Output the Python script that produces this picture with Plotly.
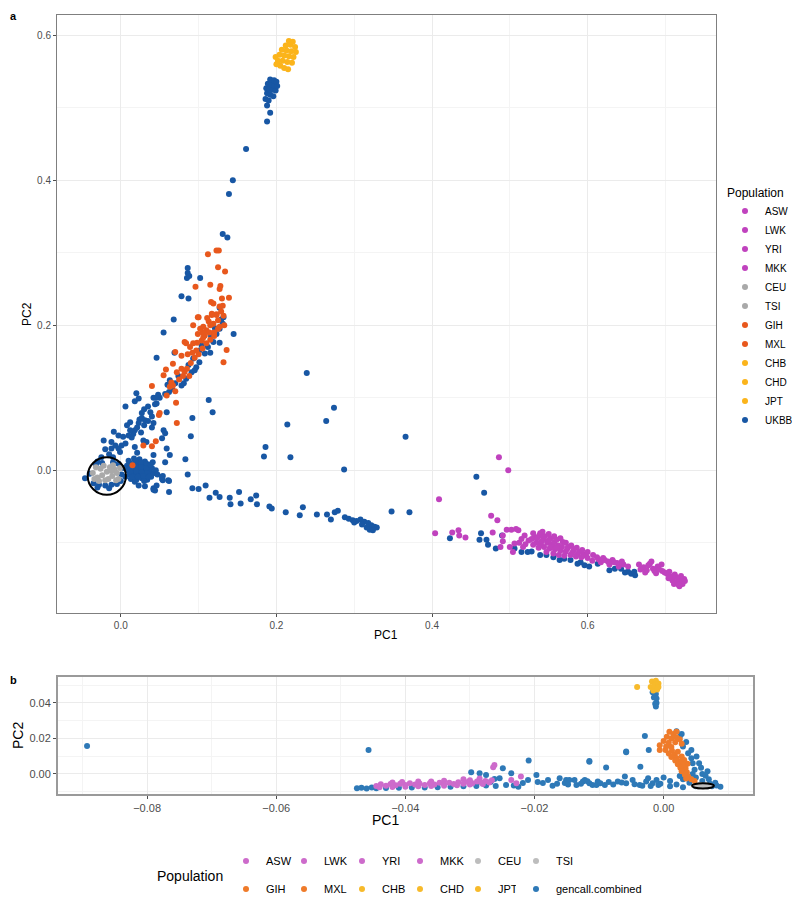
import plotly.graph_objects as go

# ---------------- panel a (PC1 vs PC2, UKBB + 1000G/HapMap) ----------------
a_east_asian = [(0.205, 0.558), (0.210, 0.555), (0.215, 0.553), (0.202, 0.565), (0.208, 0.565),
                (0.214, 0.563), (0.220, 0.562), (0.204, 0.573), (0.210, 0.572), (0.216, 0.571),
                (0.222, 0.570), (0.207, 0.580), (0.213, 0.579), (0.219, 0.578), (0.225, 0.577),
                (0.212, 0.586), (0.218, 0.587), (0.224, 0.584), (0.216, 0.592), (0.221, 0.591),
                (0.199, 0.570), (0.200, 0.560)]

a_ukbb = [(0.188, 0.520), (0.192, 0.518), (0.196, 0.516), (0.187, 0.527), (0.191, 0.526), (0.195, 0.525),
          (0.199, 0.524), (0.189, 0.533), (0.193, 0.532), (0.197, 0.531), (0.201, 0.530), (0.192, 0.539),
          (0.197, 0.538), (0.200, 0.536), (0.186, 0.512), (0.190, 0.510),
          (0.188, 0.503), (0.192, 0.493), (0.188, 0.481), (0.161, 0.443), (0.144, 0.400), (0.139, 0.381),
          (0.131, 0.326), (0.137, 0.321),
          (0.086, 0.279), (0.086, 0.272), (0.085, 0.265), (0.088, 0.268), (0.102, 0.265), (0.078, 0.240),
          (0.087, 0.237), (0.068, 0.208), (0.055, 0.190), (0.145, 0.188), (0.046, 0.155), (0.069, 0.162),
          (0.127, 0.176), (0.127, 0.224), (0.132, 0.211), (0.113, 0.097), (0.118, 0.080), (0.092, 0.072),
          (0.090, 0.047), (0.083, 0.015), (0.086, -0.006),
          (0.063, 0.124), (0.070, 0.120), (0.078, 0.117), (0.084, 0.126), (0.091, 0.135), (0.097, 0.142),
          (0.101, 0.149), (0.108, 0.161), (0.112, 0.170), (0.119, 0.177), (0.123, 0.188), (0.127, 0.195),
          (0.131, 0.202), (0.101, 0.165), (0.093, 0.154), (0.066, 0.112), (0.060, 0.118), (0.074, 0.130),
          (0.087, 0.145), (0.104, 0.172), (0.116, 0.185), (0.121, 0.196), (0.129, 0.208), (0.115, 0.162),
          (0.095, 0.138), (0.081, 0.120), (0.057, 0.105), (0.062, 0.108),
          (0.006, 0.088), (0.020, 0.106), (0.023, 0.099), (0.018, 0.095), (0.030, 0.084), (0.027, 0.079),
          (0.042, 0.100), (0.044, 0.091), (0.046, 0.092), (0.040, 0.074), (0.059, 0.080), (0.024, 0.070),
          (0.023, 0.065), (0.021, 0.059), (0.018, 0.055), (0.027, 0.072), (0.031, 0.069), (0.012, 0.066),
          (0.008, 0.062), (0.042, 0.065), (0.040, 0.059), (0.055, 0.055), (-0.009, 0.053), (-0.003, 0.048),
          (-0.022, 0.041), (-0.012, 0.039), (0.003, 0.046), (0.010, 0.048), (0.006, 0.037), (0.001, 0.034),
          (-0.003, 0.030), (-0.012, 0.030), (-0.020, 0.029), (-0.007, 0.034), (-0.001, 0.025), (0.018, 0.032),
          (0.021, 0.024), (0.029, 0.041), (0.033, 0.039), (0.053, 0.044), (0.057, 0.051), (0.059, 0.030),
          (0.063, 0.021), (0.057, 0.011), (0.042, 0.021), (0.014, 0.045), (0.016, 0.050), (0.012, 0.055),
          (0.030, 0.062), (0.035, 0.068), (0.026, 0.052), (0.050, 0.100), (0.048, 0.104), (0.045, 0.100),
          (0.035, 0.088), (0.038, 0.080), (-0.015, 0.022), (-0.025, 0.018), (-0.030, 0.012), (-0.010, 0.018),
          (0.010, 0.013), (0.017, 0.016), (0.024, 0.015), (0.031, 0.012), (0.008, 0.006), (0.014, 0.008),
          (0.021, 0.009), (0.028, 0.007), (0.035, 0.006), (0.040, 0.003), (0.009, 0.000), (0.016, 0.001),
          (0.023, 0.002), (0.030, 0.000), (0.037, -0.002), (0.043, -0.004), (0.011, -0.006), (0.018, -0.005),
          (0.025, -0.007), (0.032, -0.006), (0.039, -0.009), (0.013, -0.012), (0.020, -0.013), (0.027, -0.011),
          (0.034, -0.013), (0.006, -0.009), (0.004, 0.003), (0.018, -0.016), (0.023, -0.021), (0.031, -0.022),
          (0.042, -0.025), (0.046, -0.021), (0.053, -0.009), (0.054, -0.014), (0.061, -0.014), (0.062, -0.030),
          (0.044, -0.028), (0.054, -0.008), (0.062, -0.015), (0.042, -0.027), (0.030, -0.015), (0.041, 0.011),
          (0.053, -0.012), (0.012, 0.010), (0.019, 0.012), (0.026, 0.011), (0.033, 0.009), (0.012, 0.003),
          (0.019, 0.004), (0.026, 0.004), (0.033, 0.003), (0.013, -0.003), (0.020, -0.002), (0.027, -0.003),
          (0.034, -0.004), (0.015, -0.009), (0.022, -0.009), (0.029, -0.008), (0.036, -0.009), (0.045, 0.000),
          (0.047, -0.006), (0.038, 0.008),
          (-0.035, -0.018), (-0.028, -0.020), (-0.020, -0.021), (-0.012, -0.020), (-0.005, -0.019),
          (-0.030, -0.024), (-0.015, -0.025), (-0.032, 0.008), (-0.024, 0.010), (-0.010, 0.011),
          (-0.003, 0.009), (-0.046, -0.011), (-0.040, -0.005), (0.001, -0.006), (0.000, -0.015),
          (0.092, -0.025), (0.100, -0.026), (0.109, -0.021), (0.114, -0.038), (0.122, -0.031), (0.127, -0.037),
          (0.140, -0.038), (0.141, -0.047), (0.152, -0.030), (0.154, -0.046), (0.167, -0.040), (0.174, -0.035),
          (0.175, -0.047), (0.191, -0.050), (0.194, -0.053), (0.212, -0.058), (0.230, -0.062), (0.234, -0.051),
          (0.252, -0.061), (0.265, -0.061), (0.270, -0.068), (0.275, -0.058), (0.279, -0.056),
          (0.288, -0.065), (0.293, -0.067), (0.298, -0.069), (0.303, -0.070), (0.308, -0.068), (0.313, -0.071),
          (0.318, -0.073), (0.322, -0.076), (0.326, -0.078), (0.329, -0.079), (0.320, -0.082), (0.316, -0.079),
          (0.310, -0.075), (0.300, -0.072), (0.324, -0.083),
          (0.348, -0.057), (0.371, -0.058), (0.287, 0.001), (0.239, 0.134), (0.274, 0.086), (0.264, 0.068),
          (0.214, 0.063), (0.186, 0.032), (0.184, 0.019), (0.218, 0.018), (0.366, 0.046),
          (0.457, -0.009), (0.467, -0.031), (0.423, -0.094), (0.463, -0.087), (0.461, -0.096), (0.470, -0.096),
          (0.472, -0.103), (0.482, -0.108), (0.490, -0.090), (0.506, -0.108), (0.515, -0.113),
          (0.539, -0.117), (0.547, -0.117), (0.556, -0.120), (0.564, -0.124), (0.570, -0.122), (0.578, -0.124),
          (0.587, -0.129), (0.596, -0.131), (0.602, -0.133), (0.613, -0.129), (0.628, -0.138), (0.635, -0.136),
          (0.643, -0.136), (0.652, -0.140), (0.656, -0.143), (0.661, -0.145), (0.648, -0.141), (0.660, -0.140),
          (0.591, -0.127), (0.528, -0.112), (0.523, -0.113)]

a_south_asian_amr = [(0.112, 0.298), (0.123, 0.303), (0.126, 0.303), (0.125, 0.280), (0.134, 0.274),
                     (0.096, 0.253), (0.115, 0.256), (0.128, 0.254), (0.127, 0.250), (0.139, 0.238),
                     (0.116, 0.232), (0.130, 0.237), (0.119, 0.230), (0.123, 0.215), (0.132, 0.213),
                     (0.100, 0.211), (0.117, 0.214), (0.136, 0.166), (0.132, 0.149), (0.082, 0.177),
                     (0.070, 0.163), (0.067, 0.147), (0.058, 0.139), (0.055, 0.131), (0.040, 0.116),
                     (0.071, 0.093), (0.050, 0.079), (0.049, 0.076), (0.072, 0.065), (0.029, 0.034),
                     (0.040, 0.033), (0.045, 0.040), (0.015, 0.007),
                     (0.063, 0.115), (0.067, 0.117), (0.059, 0.103), (0.082, 0.136), (0.078, 0.158),
                     (0.089, 0.170), (0.093, 0.175), (0.099, 0.188), (0.104, 0.179), (0.110, 0.193),
                     (0.119, 0.202), (0.106, 0.198), (0.127, 0.198), (0.123, 0.214), (0.117, 0.216),
                     (0.131, 0.227), (0.099, 0.211), (0.093, 0.200), (0.084, 0.175), (0.114, 0.190),
                     (0.120, 0.185), (0.108, 0.186), (0.113, 0.205), (0.125, 0.207), (0.129, 0.219),
                     (0.065, 0.121), (0.070, 0.109), (0.086, 0.160), (0.092, 0.162), (0.098, 0.176),
                     (0.106, 0.183), (0.088, 0.130), (0.102, 0.195),
                     (0.075, 0.125), (0.080, 0.130), (0.085, 0.140), (0.090, 0.148), (0.095, 0.155),
                     (0.100, 0.160), (0.105, 0.168), (0.110, 0.175), (0.115, 0.180), (0.120, 0.190),
                     (0.125, 0.195), (0.115, 0.200), (0.105, 0.190), (0.097, 0.165), (0.078, 0.140),
                     (0.072, 0.135), (0.111, 0.210), (0.127, 0.226), (0.133, 0.200)]

a_european = [(-0.036, -0.004), (-0.032, 0.004), (-0.030, -0.010), (-0.026, 0.002), (-0.024, -0.007),
              (-0.022, 0.006), (-0.018, -0.002), (-0.016, -0.012), (-0.014, 0.004), (-0.011, -0.008),
              (-0.008, 0.001), (-0.005, -0.004), (-0.003, -0.012), (-0.001, 0.003), (-0.028, -0.015),
              (-0.020, -0.014), (-0.010, 0.007), (-0.034, -0.012), (-0.006, -0.014), (-0.012, -0.001)]

a_african = [(0.486, 0.018), (0.498, 0.000), (0.409, -0.040), (0.404, -0.087), (0.426, -0.086), (0.434, -0.083),
             (0.435, -0.090), (0.443, -0.093), (0.476, -0.063), (0.484, -0.069), (0.478, -0.086), (0.491, -0.090),
             (0.491, -0.098), (0.488, -0.106), (0.496, -0.082), (0.502, -0.082), (0.508, -0.081), (0.511, -0.083),
             (0.504, -0.113), (0.500, -0.106), (0.506, -0.101), (0.519, -0.090), (0.524, -0.097), (0.530, -0.087),
             (0.539, -0.087), (0.542, -0.085),
             (0.532, -0.092), (0.538, -0.090), (0.545, -0.091), (0.552, -0.094), (0.534, -0.100), (0.541, -0.098),
             (0.548, -0.100), (0.555, -0.102), (0.562, -0.104), (0.537, -0.107), (0.544, -0.106), (0.551, -0.108),
             (0.558, -0.109), (0.565, -0.111), (0.572, -0.112), (0.547, -0.113), (0.556, -0.115), (0.563, -0.117),
             (0.570, -0.118), (0.578, -0.117), (0.585, -0.119), (0.560, -0.096), (0.568, -0.099), (0.575, -0.106),
             (0.582, -0.110), (0.589, -0.113), (0.595, -0.116),
             (0.600, -0.121), (0.606, -0.125), (0.612, -0.120), (0.617, -0.127), (0.622, -0.124), (0.628, -0.130),
             (0.634, -0.127), (0.640, -0.133), (0.646, -0.130), (0.652, -0.133), (0.666, -0.130), (0.672, -0.134),
             (0.678, -0.131), (0.684, -0.136), (0.690, -0.133), (0.696, -0.139), (0.682, -0.126), (0.674, -0.141),
             (0.688, -0.142), (0.702, -0.143), (0.707, -0.147), (0.712, -0.144), (0.716, -0.149), (0.720, -0.152),
             (0.714, -0.155), (0.722, -0.157), (0.718, -0.160), (0.709, -0.152), (0.725, -0.153),
             (0.528, -0.095), (0.535, -0.094), (0.543, -0.095), (0.550, -0.097), (0.557, -0.099), (0.530, -0.103),
             (0.540, -0.103), (0.553, -0.105), (0.560, -0.107), (0.567, -0.106), (0.574, -0.108), (0.580, -0.114),
             (0.587, -0.116), (0.592, -0.120), (0.598, -0.118), (0.550, -0.088), (0.557, -0.091), (0.565, -0.094),
             (0.572, -0.100), (0.579, -0.104), (0.586, -0.107), (0.593, -0.110), (0.600, -0.113), (0.607, -0.117),
             (0.614, -0.123), (0.620, -0.121), (0.626, -0.126), (0.632, -0.124), (0.638, -0.128), (0.644, -0.126),
             (0.668, -0.137), (0.676, -0.138), (0.686, -0.139), (0.692, -0.137), (0.699, -0.141), (0.704, -0.149),
             (0.711, -0.157), (0.717, -0.158), (0.724, -0.150), (0.720, -0.146), (0.713, -0.147), (0.705, -0.140),
             (0.680, -0.129), (0.695, -0.130), (0.515, -0.095), (0.520, -0.102), (0.512, -0.100), (0.517, -0.106)]

# ---------------- panel b (gencall.combined) ----------------
b_east_asian = [(-0.0018, 0.052), (-0.0012, 0.0525), (-0.0008, 0.051), (-0.0020, 0.049), (-0.0014, 0.050),
                (-0.0008, 0.049), (-0.0016, 0.047), (-0.0010, 0.0475), (-0.0041, 0.049)]

b_gencall = [(-0.0017, 0.046), (-0.0012, 0.045), (-0.0015, 0.043), (-0.0011, 0.0425), (-0.0011, 0.040),
             (-0.0012, 0.038), (-0.0013, 0.0395),
             (-0.0029, 0.0214), (-0.0023, 0.0135), (-0.0058, 0.0126), (-0.0115, 0.0073), (-0.0089, 0.0036),
             (-0.0036, 0.0041), (-0.0893, 0.0158), (-0.0457, 0.0135), (-0.0298, 0.0010), (-0.0285, 0.0004),
             (-0.0275, -0.0006), (-0.0249, 0.0032), (-0.0236, 0.0004), (-0.0209, 0.0075), (-0.0197, -0.0006),
             (0.0025, 0.021), (0.0030, 0.0154), (0.0038, 0.0117), (0.0043, 0.0088), (0.0045, 0.006),
             (0.0048, 0.0023), (0.0043, 0.0135), (0.0051, 0.0098), (0.0020, 0.024), (0.0028, 0.0225),
             (0.0035, 0.018), (0.0055, 0.006), (0.0058, 0.0035),
             (0.000, -0.002), (0.001, -0.004), (0.002, -0.006), (0.003, -0.003), (0.004, -0.005), (0.005, -0.002),
             (0.006, -0.004), (0.007, -0.003), (0.008, -0.005), (0.0088, -0.0072), (0.0082, -0.0065),
             (0.0075, -0.007), (0.005, -0.007), (0.003, -0.0075), (0.001, -0.007), (0.006, 0.000),
             (0.0065, -0.001), (0.0045, 0.000), (0.0068, 0.0015), (-0.0005, -0.0055), (0.0072, -0.0055),
             (0.0025, -0.0012),
             (-0.0161, -0.0024), (-0.0151, -0.0034), (-0.0138, -0.0034), (-0.0135, -0.0062), (-0.0122, -0.0034),
             (-0.0115, -0.0052), (-0.0110, -0.0062), (-0.0102, -0.0043), (-0.0091, -0.0062), (-0.0071, -0.0043),
             (-0.0060, -0.0015), (-0.0058, -0.0052), (-0.0048, -0.0034), (-0.0037, -0.0062), (-0.0027, -0.0043),
             (-0.0024, -0.0024), (-0.0017, -0.0052), (-0.0011, -0.0034),
             (-0.0254, -0.0024), (-0.0244, -0.0062), (-0.0218, -0.0051), (-0.0210, -0.0034), (-0.0187, -0.0051),
             (-0.0179, -0.0034), (-0.0172, -0.0066), (-0.0153, -0.0051), (-0.0146, -0.0034), (-0.0125, -0.0043),
             (-0.0104, -0.0062), (-0.0115, 0.0069), (-0.0058, 0.0122),
             (-0.0475, -0.0081), (-0.0468, -0.0078), (-0.0460, -0.0082), (-0.0452, -0.0076), (-0.0445, -0.0080),
             (-0.0430, -0.0079), (-0.0410, -0.0078), (-0.0390, -0.0077), (-0.0370, -0.0076), (-0.0350, -0.0075),
             (-0.0330, -0.0072), (-0.0310, -0.0070), (-0.0290, -0.0068), (-0.0275, -0.0065), (-0.0260, -0.0068),
             (-0.0268, -0.0045), (-0.0262, -0.0028), (-0.0232, -0.0065), (-0.0225, -0.0072), (-0.0195, -0.0045),
             (-0.0165, -0.0055), (-0.0148, -0.0060), (-0.0128, -0.0055), (-0.0118, -0.0041), (-0.0098, -0.0052),
             (-0.0085, -0.0045), (-0.0078, -0.0060), (-0.0065, -0.0048), (-0.0045, -0.0058), (-0.0033, -0.0066),
             (-0.0020, -0.0068), (-0.0008, -0.0062)]

b_south_asian_amr = [(0.0009, 0.0238), (0.0020, 0.0238), (0.0015, 0.0225), (0.0005, 0.021), (0.0012, 0.020),
                     (0.0020, 0.0205), (0.0000, 0.0185), (0.0008, 0.0175), (0.0018, 0.0178), (-0.0006, 0.0162),
                     (0.0004, 0.0155), (0.0012, 0.0152), (-0.0006, 0.0135), (0.0003, 0.0135), (0.0013, 0.013),
                     (0.0008, 0.0115), (0.0017, 0.011), (0.0022, 0.0125), (0.0012, 0.0095), (0.0020, 0.009),
                     (0.0028, 0.0098), (0.0018, 0.0075), (0.0025, 0.007), (0.0032, 0.0078), (0.0022, 0.0055),
                     (0.0030, 0.0052), (0.0037, 0.0058), (0.0026, 0.0035), (0.0034, 0.0032), (0.0028, 0.0015),
                     (0.0036, 0.0010), (0.0033, -0.0005), (0.0038, -0.0015), (0.0035, -0.0025), (0.0043, -0.003),
                     (0.0048, -0.004), (0.0025, 0.0195), (0.0028, 0.017)]

b_european = [(0.0050, -0.0066), (0.0057, -0.0063), (0.0064, -0.0064), (0.0071, -0.0067),
              (0.0054, -0.0071), (0.0061, -0.0070), (0.0068, -0.0071)]

b_african = [(-0.0445, -0.0068), (-0.0438, -0.0058), (-0.0430, -0.0066), (-0.0423, -0.0056), (-0.0415, -0.0064),
             (-0.0408, -0.0055), (-0.0400, -0.0062), (-0.0393, -0.0052), (-0.0385, -0.0060), (-0.0378, -0.0054),
             (-0.0370, -0.0062), (-0.0362, -0.0052), (-0.0355, -0.0059), (-0.0347, -0.0050), (-0.0340, -0.0058),
             (-0.0332, -0.0049), (-0.0325, -0.0057), (-0.0318, -0.0047), (-0.0310, -0.0055), (-0.0303, -0.0045),
             (-0.0296, -0.0053), (-0.0289, -0.0043), (-0.0282, -0.0050), (-0.0276, -0.0040), (-0.0270, -0.0048),
             (-0.0266, -0.0035), (-0.0262, 0.0051), (-0.0264, 0.0038), (-0.0221, -0.0015), (-0.0228, -0.0052),
             (-0.0236, -0.0034), (-0.0405, -0.0045), (-0.0360, -0.0042), (-0.0300, -0.0035),
             (-0.0440, -0.0075), (-0.0420, -0.0073), (-0.0400, -0.0072), (-0.0380, -0.0070), (-0.0360, -0.0068),
             (-0.0340, -0.0066), (-0.0320, -0.0064), (-0.0300, -0.0060), (-0.0280, -0.0057), (-0.0285, -0.0025),
             (-0.0310, -0.0030), (-0.0340, -0.0038), (-0.0380, -0.0043), (-0.0420, -0.0048)]

pop_african = ["ASW", "LWK", "YRI", "MKK"]
pop_european = ["CEU", "TSI"]
pop_sas_amr = ["GIH", "MXL"]
pop_east_asian = ["CHB", "CHD", "JPT"]
legend_order = ["ASW", "LWK", "YRI", "MKK", "CEU", "TSI", "GIH", "MXL", "CHB", "CHD", "JPT", "UKBB", "gencall.combined"]

colors_a = {"afr": "#C042BE", "eur": "#A9A9A9", "sas": "#E8581D", "eas": "#FBB41B", "ukbb": "#1857A4"}
colors_b = {"afr": "#CD6BCB", "eur": "#BDBDBD", "sas": "#EF7B2A", "eas": "#F7BA2B", "ukbb": "#2E79B7"}

FONT = "Liberation Sans, Arial, sans-serif"
W, H = 792, 897   # page body keeps an 8px margin, so the figure sits at (8, 8) in the 800x905 window


def fx(px):
    # window pixel -> paper fraction
    return (px - 8) / W


def fy(py):
    return 1 - (py - 8) / H


fig = go.Figure()


def add_group(pts, names, color, xa, ya, legend_for):
    for i, name in enumerate(names):
        sub = pts[i::len(names)]
        fig.add_trace(go.Scatter(
            x=[p[0] for p in sub], y=[p[1] for p in sub], mode="markers", name=name,
            marker=dict(color=color, size=6, line=dict(width=0)),
            xaxis=xa, yaxis=ya, legend=legend_for(name),
            legendrank=legend_order.index(name) + 1))


# panel a -- UKBB first so it sits underneath
add_group(a_ukbb, ["UKBB"], colors_a["ukbb"], "x", "y", lambda n: "legend")
add_group(a_african, pop_african, colors_a["afr"], "x", "y", lambda n: "legend")
add_group(a_european, pop_european, colors_a["eur"], "x", "y", lambda n: "legend")
add_group(a_south_asian_amr, pop_sas_amr, colors_a["sas"], "x", "y", lambda n: "legend")
add_group(a_east_asian, pop_east_asian, colors_a["eas"], "x", "y", lambda n: "legend")


# panel b -- legend split into two rows (+ last entry on its own so its text is not clipped)
def leg_b(n):
    if n in ["ASW", "LWK", "YRI", "MKK", "CEU", "TSI"]:
        return "legend2"
    if n == "gencall.combined":
        return "legend4"
    return "legend3"


add_group(b_gencall, ["gencall.combined"], colors_b["ukbb"], "x2", "y2", leg_b)
add_group(b_african, pop_african, colors_b["afr"], "x2", "y2", leg_b)
add_group(b_european, pop_european, colors_b["eur"], "x2", "y2", leg_b)
add_group(b_south_asian_amr, pop_sas_amr, colors_b["sas"], "x2", "y2", leg_b)
add_group(b_east_asian, pop_east_asian, colors_b["eas"], "x2", "y2", leg_b)

grid = "#EBEBEB"
minor_grid = "#F4F4F4"
axis_common = dict(showgrid=True, gridcolor=grid, gridwidth=1, zeroline=False, showline=True, mirror=True,
                   ticks="outside", ticklen=3, tickcolor="#4d4d4d")

row_leg = dict(orientation="h", font=dict(size=11), xanchor="left", yanchor="middle",
               entrywidth=13, itemwidth=30, bgcolor="rgba(0,0,0,0)")

fig.update_layout(
    width=W, height=H, margin=dict(l=0, r=0, t=0, b=0, autoexpand=False),
    paper_bgcolor="white", plot_bgcolor="white",
    font=dict(family=FONT, color="#000000"),
    xaxis=dict(domain=[fx(57), fx(716)], range=[-0.082, 0.765], tick0=0, dtick=0.2, tickformat=".1f",
               minor=dict(dtick=0.1, showgrid=True, gridcolor=minor_grid, ticks=""),
               linecolor="#7f7f7f", linewidth=1, tickfont=dict(size=10, color="#4d4d4d"), **axis_common),
    yaxis=dict(domain=[fy(613), fy(15)], range=[-0.197, 0.628], tick0=0, dtick=0.2, tickformat=".1f",
               minor=dict(dtick=0.1, showgrid=True, gridcolor=minor_grid, ticks=""),
               linecolor="#7f7f7f", linewidth=1, tickfont=dict(size=10, color="#4d4d4d"), **axis_common),
    xaxis2=dict(domain=[fx(58), fx(752.7)], range=[-0.0938, 0.0138], tick0=0, dtick=0.02, tickformat=".2f",
                minor=dict(dtick=0.01, showgrid=True, gridcolor=minor_grid, ticks=""), anchor="y2",
                linecolor="#9a9a9a", linewidth=2, tickfont=dict(size=11, color="#4d4d4d"), **axis_common),
    yaxis2=dict(domain=[fy(794), fy(677)], range=[-0.0113, 0.0546], tick0=0, dtick=0.02, tickformat=".2f",
                minor=dict(dtick=0.01, showgrid=True, gridcolor=minor_grid, ticks=""), anchor="x2",
                linecolor="#9a9a9a", linewidth=2, tickfont=dict(size=11, color="#4d4d4d"), **axis_common),
    legend=dict(title=dict(text="Population", font=dict(size=12)), font=dict(size=10),
                x=fx(725), xanchor="left", y=fy(181), yanchor="top", tracegroupgap=0, itemwidth=30),
    legend2=dict(x=fx(226), y=fy(861), **row_leg),
    legend3=dict(x=fx(226), y=fy(889), **row_leg),
    legend4=dict(x=fx(516), y=fy(889), orientation="h", font=dict(size=11), xanchor="left", yanchor="middle",
                 itemwidth=30, bgcolor="rgba(0,0,0,0)"),
    showlegend=True,
)

# circles around the European reference samples
fig.add_shape(type="circle", xref="x", yref="y", x0=-0.0425, x1=0.0065, y0=-0.034, y1=0.018,
              line=dict(color="black", width=2))
fig.add_shape(type="circle", xref="x2", yref="y2", x0=0.0044, x1=0.0078, y0=-0.0082, y1=-0.0052,
              line=dict(color="black", width=2))

# (text, window x, window y, size, angle, x anchor, y anchor)
labels = [
    ("<b>a</b>", 8, 8, 11, 0, "left", "top"),
    ("<b>b</b>", 8, 680, 11, 0, "left", "middle"),
    ("PC1", 386, 635, 12, 0, "center", "middle"),
    ("PC2", 27, 314, 12, -90, "center", "middle"),
    ("PC1", 385, 820, 14, 0, "center", "middle"),
    ("PC2", 8, 736, 14, -90, "left", "middle"),
    ("Population", 190, 876, 14, 0, "center", "middle"),
]
for text, lx, ly, size, angle, xa, ya in labels:
    fig.add_annotation(text=text, x=fx(lx), y=fy(ly), xref="paper", yref="paper",
                       showarrow=False, textangle=angle, font=dict(size=size, family=FONT),
                       xanchor=xa, yanchor=ya)

fig.write_html("out.html")
